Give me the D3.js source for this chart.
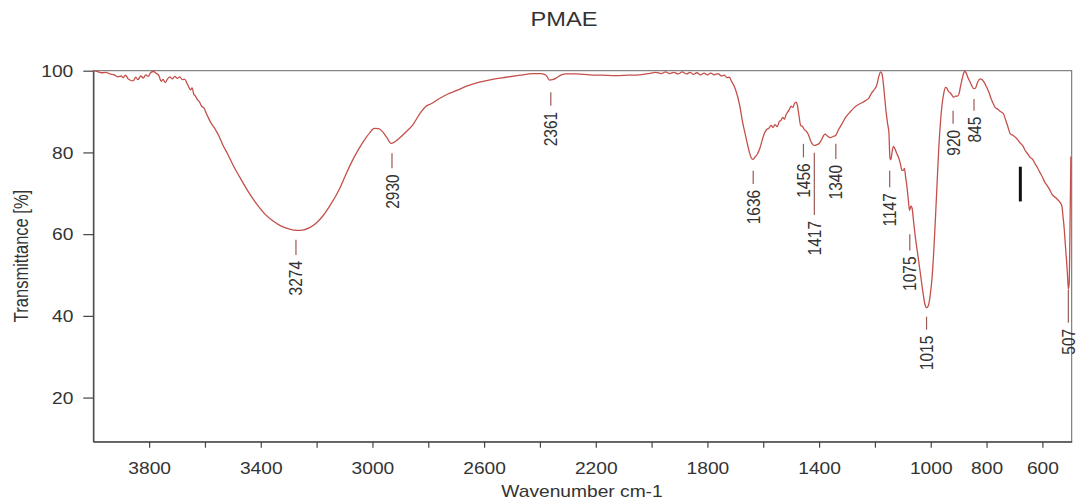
<!DOCTYPE html>
<html>
<head>
<meta charset="utf-8">
<script src="https://cdn.jsdelivr.net/npm/d3@7"></script>
<style>
  body { margin: 0; background: #fff; }
  text { font-family: "Liberation Sans", Arial, sans-serif; fill: #333; }
</style>
</head>
<body>
<svg id="chart" width="1079" height="502"></svg>
<script>
// FT-IR spectrum of PMAE (wavenumber cm-1 / transmittance %)
const wavenumber = [
  4000, 3985, 3970, 3955, 3940, 3925, 3912, 3900, 3893, 3885, 3875, 3865, 3857, 3848, 3840, 3830,
  3821, 3812, 3803, 3795, 3785, 3775, 3765, 3757, 3750, 3742, 3734, 3726, 3717, 3708, 3699, 3690,
  3681, 3672, 3665, 3658, 3652, 3646, 3640, 3634, 3627, 3620, 3612, 3604, 3594, 3580, 3565, 3550,
  3535, 3520, 3500, 3475, 3445, 3415, 3385, 3356, 3325, 3296, 3272, 3250, 3225, 3200, 3177, 3150,
  3120, 3094, 3065, 3035, 3010, 2993, 2978, 2964, 2948, 2933, 2920, 2903, 2880, 2856, 2830, 2810,
  2790, 2760, 2730, 2700, 2660, 2617, 2570, 2521, 2470, 2426, 2395, 2378, 2366, 2355, 2342, 2325,
  2307, 2270, 2223, 2175, 2128, 2085, 2044, 2010, 1985, 1965, 1950, 1935, 1920, 1905, 1890, 1875,
  1862, 1850, 1838, 1825, 1812, 1800, 1788, 1775, 1762, 1750, 1740, 1730, 1722, 1712, 1704, 1698,
  1690, 1683, 1675, 1663, 1651, 1643, 1637, 1630, 1621, 1612, 1603, 1595, 1588, 1580, 1572, 1565,
  1558, 1550, 1543, 1536, 1530, 1524, 1518, 1512, 1506, 1500, 1494, 1488, 1482, 1478, 1472, 1466,
  1460, 1454, 1446, 1438, 1430, 1422, 1417, 1408, 1400, 1392, 1385, 1379, 1370, 1360, 1350, 1341,
  1330, 1318, 1305, 1290, 1275, 1262, 1248, 1233, 1222, 1212, 1202, 1194, 1186, 1180, 1175, 1170,
  1165, 1160, 1154, 1150, 1146, 1143, 1139, 1134, 1129, 1122, 1115, 1108, 1103, 1098, 1094, 1090,
  1085, 1080, 1076, 1071, 1067, 1061, 1055, 1046, 1037, 1028, 1020, 1014, 1008, 1002, 995, 989,
  983, 977, 971, 965, 959, 953, 947, 942, 936, 930, 924, 918, 911, 904, 898, 893,
  888, 883, 878, 873, 866, 859, 852, 846, 840, 834, 828, 822, 815, 808, 800, 792,
  784, 775, 768, 760, 752, 745, 739, 733, 727, 721, 715, 708, 700, 692, 685, 678,
  670, 661, 652, 644, 635, 626, 617, 608, 600, 592, 584, 575, 566, 558, 550, 542,
  535, 530, 526, 522, 518, 514, 510, 507, 504, 501, 498
]
const transmittance = [
  100, 99.8, 99.5, 99.6, 99.2, 99.0, 98.5, 98.7, 98.3, 98.9, 98.0, 97.6, 97.5, 98.4, 97.8, 98.7,
  98.2, 99.0, 98.6, 99.5, 99.8, 99.4, 98.8, 97.4, 97.9, 97.1, 98.0, 98.5, 98.0, 98.6, 98.1, 98.5,
  97.8, 97.9, 97.0, 96.0, 95.3, 95.8, 94.2, 93.8, 92.9, 92.4, 91.3, 90.9, 89.4, 87.4, 85.9, 84.0,
  81.7, 79.8, 77.0, 73.9, 70.4, 67.4, 64.9, 63.2, 61.9, 61.2, 60.9, 61.0, 61.6, 62.8, 64.5, 67.2,
  70.8, 74.8, 78.9, 82.4, 84.8, 85.9, 85.8, 85.1, 83.6, 82.2, 82.6, 83.5, 85.0, 86.7, 89.5, 91.2,
  91.9, 93.2, 94.3, 95.1, 96.3, 97.2, 97.9, 98.4, 98.9, 99.3, 99.3, 98.9, 97.7, 97.8, 98.2, 98.9,
  99.2, 99.2, 99.0, 98.9, 98.8, 98.9, 99.0, 99.3, 99.6, 99.3, 99.7, 99.3, 99.6, 99.2, 99.7, 99.2,
  99.6, 99.1, 99.5, 99.0, 99.4, 99.0, 99.4, 99.0, 99.3, 98.7, 98.9, 98.3, 98.4, 97.2, 96.2, 95.1,
  93.2, 91.0, 87.8, 84.0, 80.4, 78.7, 78.3, 78.8, 79.6, 81.0, 83.2, 84.8, 85.6, 85.9, 86.6, 86.1,
  86.8, 86.3, 87.5, 87.9, 88.6, 88.1, 89.3, 89.9, 90.6, 91.3, 91.0, 92.0, 92.3, 91.6, 89.0, 86.6,
  86.4, 85.7, 85.2, 84.3, 82.8, 81.9, 81.7, 81.9, 82.2, 83.0, 84.0, 84.5, 84.0, 83.6, 83.9, 84.1,
  85.6, 87.0, 88.6, 89.8, 90.9, 91.6, 92.1, 92.7, 93.3, 94.5, 95.4, 96.3, 98.6, 99.7, 99.3, 97.0,
  93.5, 90.0, 86.8, 85.0, 78.6, 78.2, 79.8, 81.5, 81.0, 79.8, 78.7, 77.0, 75.6, 75.6, 76.1, 74.0,
  71.5, 68.2, 65.8, 66.9, 66.4, 62.8, 59.2, 54.8, 50.3, 45.8, 42.6, 42.0, 42.6, 45.0, 49.5, 56.0,
  64.1, 72.8, 81.3, 87.5, 91.9, 94.6, 95.9, 95.7, 94.9, 94.6, 94.0, 93.5, 93.8, 93.8, 94.5, 96.3,
  97.8, 99.2, 99.9, 99.4, 98.2, 97.2, 96.2, 95.6, 95.7, 96.8, 97.7, 98.0, 97.7, 97.1, 96.0, 94.8,
  93.2, 91.8, 90.9, 90.6, 90.1, 89.8, 89.4, 88.2, 87.0, 85.7, 84.5, 84.3, 83.9, 83.4, 82.8, 82.2,
  81.6, 80.4, 79.6, 78.8, 78.3, 77.2, 76.2, 75.0, 74.0, 72.8, 72.0, 71.0, 69.8, 69.2, 68.8, 68.2,
  67.6, 66.8, 64.2, 61.5, 57.6, 54.0, 50.0, 46.5, 48.0, 62.0, 79.0
]

// peak annotations: wavenumber, tick start / end (transmittance units)
const peakWn = [3274, 2930, 2361, 1636, 1456, 1417, 1340, 1147, 1075, 1015, 920, 845, 507]
const peakTickTop = [58.6, 79.8, 94.7, 75.5, 82.1, 79.9, 82.1, 75.5, 60.0, 39.8, 90.2, 93.1, 46.3]
const peakTickBottom = [54.9, 76.1, 91.4, 72.3, 78.8, 64.7, 78.4, 71.5, 56.0, 36.6, 87.0, 90.2, 38.3]

// stray black marker in the picture
const markWn = [679, 679]
const markT = [76.5, 68.0]

const yTicks = [20, 40, 60, 80, 100]
const xTicks = [3800, 3600, 3400, 3200, 3000, 2800, 2600, 2400, 2200, 2000, 1800, 1600, 1400, 1200, 1000, 800, 600]
const xTickLabels = [3800, 3400, 3000, 2600, 2200, 1800, 1400, 1000, 800, 600]

const W = 1079, H = 502
const margin = { top: 70.7, right: 7.3, bottom: 60.3, left: 93.3 }
const STRETCH = 1.2 // the picture's text is a bit wider than tall
const lineColor = '#c4504b'

const svg = d3.select('#chart')

const x = d3.scaleLinear().domain([4000, 495]).range([margin.left, W - margin.right])
const y = d3.scaleLinear().domain([9.2, 100]).range([H - margin.bottom, margin.top])

// frame
svg.append('rect')
  .attr('x', margin.left).attr('y', margin.top)
  .attr('width', W - margin.right - margin.left)
  .attr('height', H - margin.bottom - margin.top)
  .attr('fill', 'none').attr('stroke', '#666').attr('stroke-width', 1)

// x axis
const xAxis = svg.append('g')
  .attr('transform', 'translate(0,' + (H - margin.bottom) + ')')
  .call(d3.axisBottom(x).tickValues(xTicks).tickSize(6).tickSizeOuter(0)
    .tickFormat(d => xTickLabels.includes(d) ? d : ''))
xAxis.select('.domain').attr('stroke', '#444').attr('stroke-width', 1.3)
xAxis.selectAll('.tick line').attr('stroke', '#444').attr('stroke-width', 1.2)
xAxis.selectAll('.tick text')
  .attr('y', 0).attr('dy', 0)
  .attr('font-size', 16)
  .attr('transform', 'translate(0,32) scale(' + STRETCH + ',1)')

// y axis
const yAxis = svg.append('g')
  .attr('transform', 'translate(' + margin.left + ',0)')
  .call(d3.axisLeft(y).tickValues(yTicks).tickSize(10).tickSizeOuter(0))
yAxis.select('.domain').attr('stroke', '#444').attr('stroke-width', 1.3)
yAxis.selectAll('.tick line').attr('stroke', '#444').attr('stroke-width', 1.2)
yAxis.selectAll('.tick text')
  .attr('x', 0).attr('dy', '0.35em')
  .attr('font-size', 16)
  .attr('transform', 'translate(-20,0) scale(' + STRETCH + ',1)')

// spectrum
const spectrum = wavenumber.map((w, i) => ({ w: w, t: transmittance[i] }))
const line = d3.line()
  .x(d => x(d.w))
  .y(d => y(d.t))
  .curve(d3.curveMonotoneX)
svg.append('path')
  .datum(spectrum)
  .attr('d', line)
  .attr('fill', 'none')
  .attr('stroke', lineColor)
  .attr('stroke-width', 1.3)

// peak ticks and labels
const peaks = peakWn.map((w, i) => ({ w: w, top: peakTickTop[i], bottom: peakTickBottom[i] }))
const peakG = svg.append('g')
peakG.selectAll('line')
  .data(peaks)
  .join('line')
  .attr('x1', d => x(d.w)).attr('x2', d => x(d.w))
  .attr('y1', d => y(d.top)).attr('y2', d => y(d.bottom))
  .attr('stroke', '#9a5a56').attr('stroke-width', 1.2)
peakG.selectAll('text')
  .data(peaks)
  .join('text')
  .text(d => d.w)
  .attr('font-size', 15.5)
  .attr('text-anchor', 'end')
  .attr('dy', '0.35em')
  .attr('transform', d => 'translate(' + x(d.w) + ',' + (y(d.bottom) + 6) + ') scale(' + STRETCH + ',1) rotate(-90)')

// black marker
svg.append('line')
  .attr('x1', x(markWn[0])).attr('x2', x(markWn[1]))
  .attr('y1', y(markT[0])).attr('y2', y(markT[1]))
  .attr('stroke', '#111').attr('stroke-width', 3)

// titles
svg.append('text')
  .text('PMAE')
  .attr('font-size', 20)
  .attr('text-anchor', 'middle')
  .attr('transform', 'translate(564,26) scale(1.18,1)')

svg.append('text')
  .text('Wavenumber cm-1')
  .attr('font-size', 16)
  .attr('text-anchor', 'middle')
  .attr('transform', 'translate(582,497) scale(' + STRETCH + ',1)')

svg.append('text')
  .text('Transmittance [%]')
  .attr('font-size', 16.5)
  .attr('text-anchor', 'middle')
  .attr('transform', 'translate(28,256) scale(' + STRETCH + ',1) rotate(-90)')
</script>
</body>
</html>
